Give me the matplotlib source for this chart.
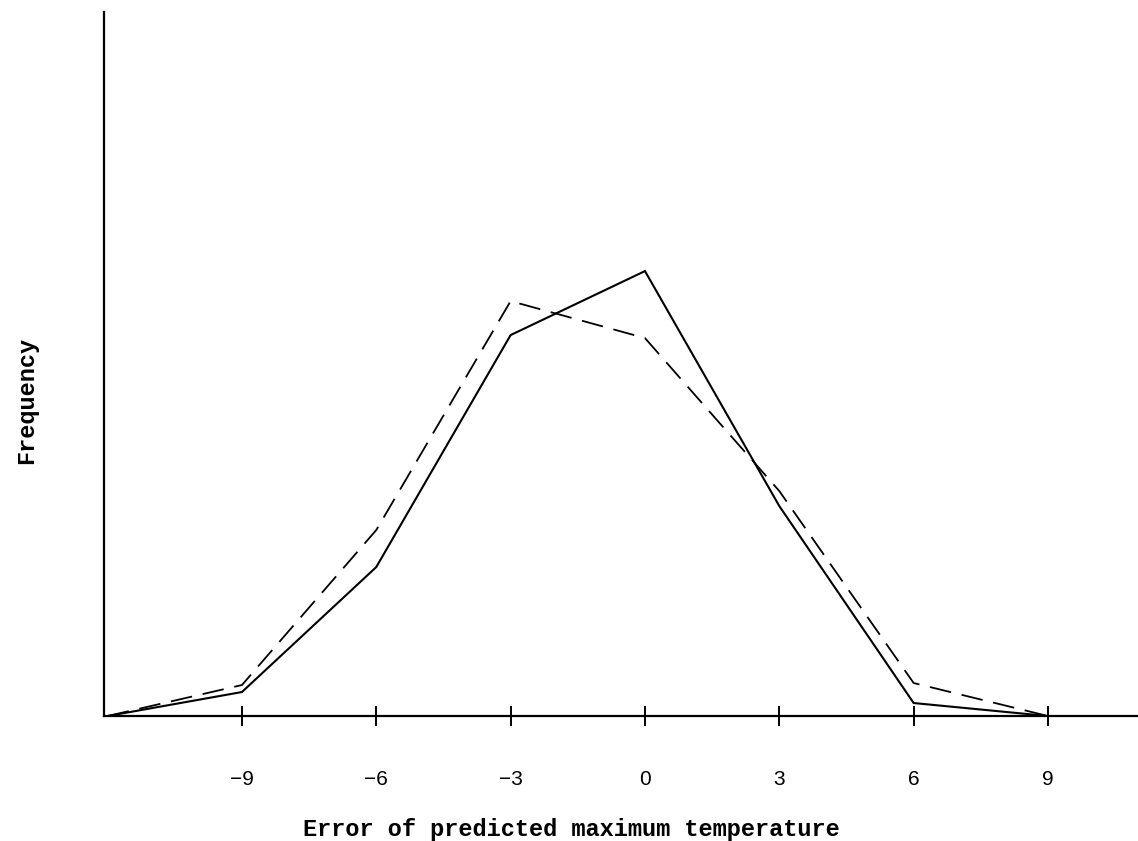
import matplotlib.pyplot as plt

# error classes (deg) and frequencies (arbitrary units)
errors = [-12, -9, -6, -3, 0, 3, 6, 9]
freq_solid = [0, 24, 149, 381, 445, 210, 13, 0]
freq_dashed = [0, 31, 186, 415, 378, 225, 33, 0]
tick_vals = [-9, -6, -3, 0, 3, 6, 9]
tick_labels = ["\u22129", "\u22126", "\u22123", "0", "3", "6", "9"]

fig = plt.figure(figsize=(11.38, 8.41), dpi=100)
ax = fig.add_axes([0.0914, 0.1486, 0.9086, 0.837])

ax.plot(errors, freq_solid, color="black", lw=1.5, solid_joinstyle="miter")
ax.plot(errors, freq_dashed, color="black", lw=1.3, dashes=(12, 6))

ax.set_xlim(-12.08, 11.01)
ax.set_ylim(0, 704)

for side in ["top", "right"]:
    ax.spines[side].set_visible(False)
for side in ["left", "bottom"]:
    ax.spines[side].set_linewidth(1.6)

ax.set_yticks([])
ax.set_xticks(tick_vals)
ax.set_xticklabels(tick_labels, family="Liberation Sans", fontsize=15)
ax.tick_params(axis="x", direction="inout", length=14, width=1.4, pad=32)

ax.set_xlabel("Error of predicted maximum temperature", family="Liberation Mono",
              fontsize=17, fontweight="bold")
ax.set_ylabel("Frequency", family="Liberation Mono", fontsize=17,
              fontweight="bold")
# labels are off-centre in the original
ax.xaxis.set_label_coords(0.4516, -0.145)
ax.yaxis.set_label_coords(-0.064, 0.449)

fig.savefig("out.png", dpi=100)
